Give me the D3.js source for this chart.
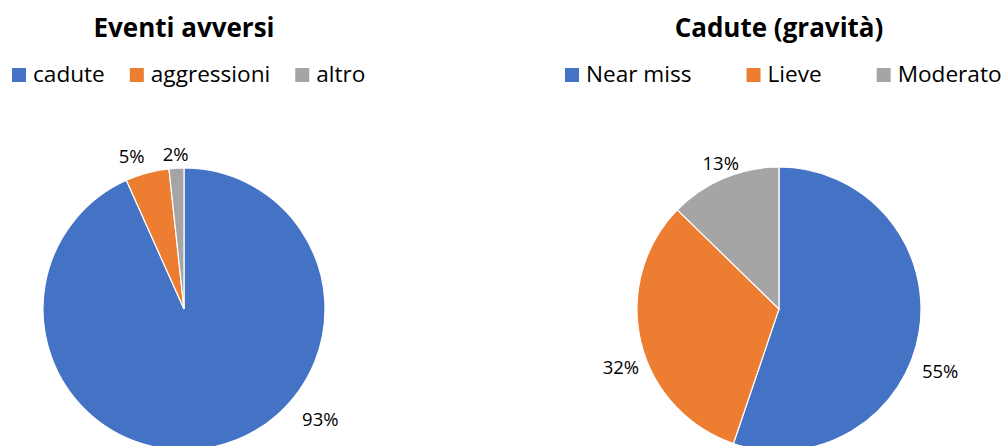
<!DOCTYPE html>
<html>
<head>
<meta charset="utf-8">
<script src="https://cdn.jsdelivr.net/npm/d3@7"></script>
<style>
  html, body { margin: 0; padding: 0; background: #fff; }
  svg { display: block; font-family: "Open Sans", Lato, sans-serif; }
</style>
</head>
<body>
<svg id="chart" width="1007" height="446"></svg>
<script>
// Data
const eventiCategories = ['cadute', 'aggressioni', 'altro']
const eventiValues = [93.3, 5.0, 1.7]
const caduteCategories = ['Near miss', 'Lieve', 'Moderato']
const caduteValues = [55.2, 32.1, 12.7]
const sliceColors = ['#4472C4', '#ED7D31', '#A5A5A5']

// Layout
const charts = [
  {
    title: 'Eventi avversi', cats: eventiCategories, vals: eventiValues,
    cx: 184, cy: 309, r: 141, titleX: 184, legendX: 12, legendGap: 25,
    nudge: { cadute: [0, 0], aggressioni: [-11, 0], altro: [0, 0] }
  },
  {
    title: 'Cadute (gravità)', cats: caduteCategories, vals: caduteValues,
    cx: 779, cy: 309, r: 142, titleX: 779, legendX: 565, legendGap: 55,
    nudge: { 'Near miss': [-4, 34], Lieve: [5, 18], Moderato: [5, 4] }
  }
]

const svg = d3.select('#chart')
const pct = d3.format('.0%')
const labelMaxY = 418

charts.forEach(c => {
  const g = svg.append('g')
  const color = d3.scaleOrdinal().domain(c.cats).range(sliceColors)
  const total = d3.sum(c.vals)

  // Title
  g.append('text')
    .attr('x', c.titleX).attr('y', 37)
    .attr('text-anchor', 'middle')
    .attr('font-weight', 'bold')
    .attr('font-size', 26)
    .attr('fill', '#000')
    .text(c.title)

  // Legend
  let lx = c.legendX
  c.cats.forEach(cat => {
    g.append('rect')
      .attr('x', lx).attr('y', 68).attr('width', 14).attr('height', 14)
      .attr('fill', color(cat))
    const t = g.append('text')
      .attr('x', lx + 21).attr('y', 82)
      .attr('font-size', 22.6)
      .attr('fill', '#000')
      .text(cat)
    lx += 21 + t.node().getComputedTextLength() + c.legendGap
  })

  // Pie
  const arcs = d3.pie().sort(null).value(d => d.v)(c.cats.map((cat, i) => ({ cat, v: c.vals[i] })))
  const arc = d3.arc().innerRadius(0).outerRadius(c.r)
  const pieG = g.append('g').attr('transform', `translate(${c.cx},${c.cy})`)
  pieG.selectAll('path').data(arcs).join('path')
    .attr('d', arc)
    .attr('fill', d => color(d.data.cat))
    .attr('stroke', '#fff')
    .attr('stroke-width', 1.2)

  // Outside labels
  arcs.forEach(d => {
    const t = g.append('text')
      .attr('font-size', 18.5)
      .attr('fill', '#000')
      .attr('text-anchor', 'middle')
      .attr('dominant-baseline', 'central')
      .text(pct(d.data.v / total))
    const bb = t.node().getBBox()
    const hw = bb.width / 2, hh = bb.height / 2 - 4
    let a = (d.startAngle + d.endAngle) / 2
    const dist = ang => c.r + 6 + Math.abs(Math.sin(ang)) * hw + Math.abs(Math.cos(ang)) * hh
    let x = c.cx + dist(a) * Math.sin(a)
    let y = c.cy - dist(a) * Math.cos(a)
    if (y > labelMaxY) {
      // rotate label up along the ring until it fits in the plot
      for (let k = 0; k < 5; k++) {
        const R = dist(a) + 8
        const cosA = -(labelMaxY - c.cy) / R
        a = Math.sin(a) >= 0 ? Math.acos(cosA) : 2 * Math.PI - Math.acos(cosA)
      }
      const R = dist(a) + 8
      x = c.cx + R * Math.sin(a)
      y = labelMaxY
    }
    const n = c.nudge[d.data.cat] || [0, 0]
    t.attr('x', x + n[0]).attr('y', y + n[1])
  })
})
</script>
</body>
</html>
